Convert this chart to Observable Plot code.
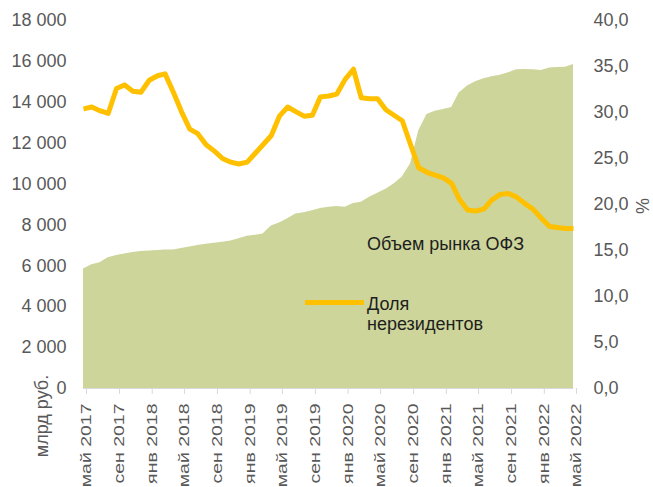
<!DOCTYPE html>
<html><head><meta charset="utf-8">
<script src="https://cdn.jsdelivr.net/npm/d3@7"></script>
<script src="https://cdn.jsdelivr.net/npm/@observablehq/plot@0.6"></script>
<style>
body{margin:0;background:#fff;font-family:"Liberation Sans",Arial,sans-serif;}
#wrap{position:relative;width:653px;height:487px;overflow:hidden}
#wrap svg{position:absolute;left:0;top:0}
.ov{position:absolute;white-space:nowrap;font-size:18px;line-height:20px}
</style></head><body><div id="wrap"></div>
<script>
// Monthly data, May 2017 .. May 2022
const startDate = new Date(Date.UTC(2017, 4, 1));
const monthNames = ["янв","фев","мар","апр","май","июн","июл","авг","сен","окт","ноя","дек"];
// Объем рынка ОФЗ, млрд руб. (left axis)
const ofzVolume = [
  5850, 6050, 6150, 6400, 6500, 6580, 6650, 6700, 6730, 6750, 6770, 6780,
  6850, 6920, 6990, 7050, 7100, 7150, 7220, 7320, 7450, 7500, 7560, 7950,
  8100, 8300, 8540, 8600, 8700, 8800, 8870, 8900, 8870, 9050, 9110, 9350,
  9550, 9750, 10000, 10350, 10990, 12600, 13400, 13560, 13650, 13750, 14450, 14800,
  15000, 15150, 15250, 15320, 15450, 15590, 15600, 15590, 15550, 15680, 15700, 15710,
  15850
];
// Доля нерезидентов, % (right axis)
const nonresShare = [
  30.4, 30.6, 30.2, 29.9, 32.6, 33.0, 32.3, 32.2, 33.5, 34.0, 34.2, 32.2,
  30.1, 28.2, 27.7, 26.5, 25.8, 25.0, 24.6, 24.4, 24.6, 25.6, 26.5, 27.5,
  29.6, 30.6, 30.1, 29.6, 29.7, 31.7, 31.8, 32.0, 33.6, 34.7, 31.6, 31.5,
  31.5, 30.3, 29.7, 29.1, 26.5, 24.0, 23.5, 23.2, 22.9, 22.3, 20.6, 19.4,
  19.3, 19.5, 20.5, 21.1, 21.2, 20.8, 20.1, 19.5, 18.5, 17.6, 17.5, 17.4,
  17.4
];
const leftTicks = [0, 2000, 4000, 6000, 8000, 10000, 12000, 14000, 16000, 18000];
const rightTicks = [0, 5, 10, 15, 20, 25, 30, 35, 40];
const leftMax = 18000, rightMax = 40;
const labels = {area: "Объем рынка ОФЗ", line: ["Доля", "нерезидентов"], left: "млрд руб.", right: "%"};

const dates = ofzVolume.map((_, i) => d3.utcMonth.offset(startDate, i));
const rows = dates.map((d, i) => ({date: d, vol: ofzVolume[i], share: nonresShare[i]}));
const xTicks = dates.filter((_, i) => i % 4 === 0);
const k = leftMax / rightMax;
const fmtLeft = d3.formatLocale({decimal: ",", thousands: " ", grouping: [3], currency: ["", ""]}).format(",");

const textColor = "#595959";
const chart = Plot.plot({
  width: 653, height: 487,
  marginLeft: 83, marginRight: 80, marginTop: 20, marginBottom: 99,
  style: {fontFamily: "'Liberation Sans', Arial, sans-serif", fontSize: "18px", color: textColor, background: "transparent"},
  x: {type: "utc", domain: [dates[0], dates[dates.length - 1]]},
  y: {domain: [0, leftMax]},
  marks: [
    Plot.areaY(rows, {x: "date", y: "vol", fill: "#cdd59b"}),
    Plot.ruleY([0], {stroke: "#d9d9d9", strokeWidth: 1}),
    Plot.line(rows, {x: "date", y: d => d.share * k, stroke: "#ffc000", strokeWidth: 5, strokeLinejoin: "round", strokeLinecap: "butt"}),
    Plot.axisY({anchor: "left", ticks: leftTicks, tickSize: 0, tickPadding: 17, tickFormat: fmtLeft, label: null, fill: textColor}),
    Plot.axisY({anchor: "right", ticks: rightTicks.map(t => t * k), tickSize: 0, tickPadding: 20, tickFormat: v => (v / k).toFixed(1).replace(".", ","), label: null, fill: textColor}),
    Plot.axisX({anchor: "bottom", ticks: xTicks, tickSize: 6, tickPadding: 9, tickRotate: -90, stroke: "#d9d9d9", fill: textColor, dx: 3, fontSize: 15,
      tickFormat: d => monthNames[d.getUTCMonth()] + " " + d.getUTCFullYear(), label: null})
  ]
});
// stretch rotated x tick labels along their reading direction (as in the reference)
chart.querySelectorAll('g[aria-label="x-axis tick label"] text').forEach(t => {
  const tr = t.getAttribute("transform") || "";
  t.setAttribute("transform", tr + " scale(1.3,1)");
});
const wrap = document.getElementById("wrap");
wrap.appendChild(chart);

function ov(html, css) {
  const d = document.createElement("div");
  d.className = "ov";
  d.innerHTML = html;
  Object.assign(d.style, css);
  wrap.appendChild(d);
  return d;
}
// legend / annotations
ov(labels.area, {left: "367px", top: "234px", color: "#1e1e1e"});
const sw = document.createElement("div");
Object.assign(sw.style, {position: "absolute", left: "305px", top: "300px", width: "59px", height: "5px", background: "#ffc000"});
wrap.appendChild(sw);
ov(labels.line.join("<br>"), {left: "367px", top: "294px", color: "#1e1e1e"});
// axis titles
ov(labels.left, {left: "42px", top: "416px", color: textColor, transform: "translate(-50%,-50%) rotate(-90deg)"});
ov(labels.right, {left: "642px", top: "206px", color: textColor, transform: "translate(-50%,-50%) rotate(90deg)"});
</script>
</body></html>
